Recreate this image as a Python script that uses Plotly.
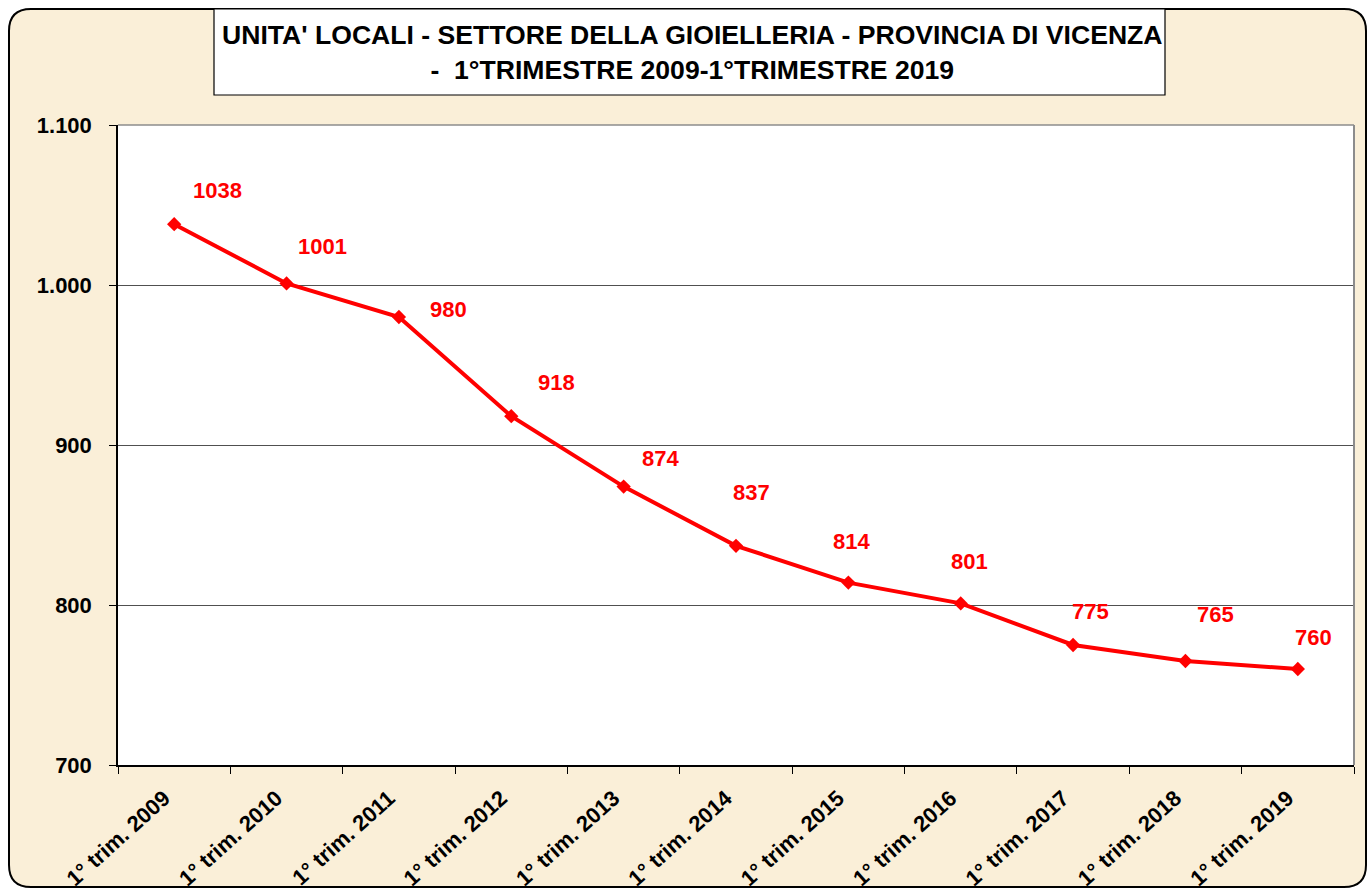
import plotly.graph_objects as go

categories = ["1° trim. 2009", "1° trim. 2010", "1° trim. 2011", "1° trim. 2012",
              "1° trim. 2013", "1° trim. 2014", "1° trim. 2015", "1° trim. 2016",
              "1° trim. 2017", "1° trim. 2018", "1° trim. 2019"]
values = [1038, 1001, 980, 918, 874, 837, 814, 801, 775, 765, 760]
y_tickvals = [700, 800, 900, 1000, 1100]
y_ticktext = ["700", "800", "900", "1.000", "1.100"]
title_lines = ["UNITA' LOCALI - SETTORE DELLA GIOIELLERIA - PROVINCIA DI VICENZA",
               "-  1°TRIMESTRE 2009-1°TRIMESTRE 2019"]

# label offsets in pixels (dx, dy) relative to each point
label_shift = [(43, 34), (36, 37), (50, 8), (45, 34), (37, 28), (15, 53),
               (3, 41), (9, 42), (17, 34), (30, 47), (16, 32)]

W, H = 1369, 890
L, R, T, B = 118, 15, 125, 125
pw, ph = W - L - R, H - T - B

def px(x):
    return (x - L) / pw

def py(y):
    return (H - B - y) / ph

FONT = "Arial, Liberation Sans, sans-serif"
RED = "#FF0000"

fig = go.Figure()
fig.add_trace(go.Scatter(
    x=categories, y=values, mode="lines+markers",
    line=dict(color=RED, width=4),
    marker=dict(symbol="diamond", size=11, color=RED),
    hoverinfo="x+y", showlegend=False,
))

annotations = []
for c, v, (dx, dy) in zip(categories, values, label_shift):
    annotations.append(dict(
        x=c, y=v, xref="x", yref="y", text=f"<b>{v}</b>", showarrow=False,
        xshift=dx, yshift=dy, font=dict(family=FONT, size=22, color=RED),
    ))

annotations.append(dict(
    x=px(692), y=py(53), xref="paper", yref="paper",
    text="<b>" + "<br>".join(title_lines) + "</b>", showarrow=False,
    font=dict(family=FONT, size=26.6, color="black"), align="center",
    xanchor="center", yanchor="middle",
))

# rounded outer border path in paper coordinates
x0, x1, y0, y1 = 9, 1366, 9, 887
r = 22
def P(x, y):
    return f"{px(x):.5f},{py(y):.5f}"
path = (f"M {P(x0 + r, y0)} L {P(x1 - r, y0)} Q {P(x1, y0)} {P(x1, y0 + r)} "
        f"L {P(x1, y1 - r)} Q {P(x1, y1)} {P(x1 - r, y1)} "
        f"L {P(x0 + r, y1)} Q {P(x0, y1)} {P(x0, y1 - r)} "
        f"L {P(x0, y0 + r)} Q {P(x0, y0)} {P(x0 + r, y0)} Z")

shapes = [
    dict(type="path", path=path, xref="paper", yref="paper",
         fillcolor="#FAEFD8", line=dict(color="black", width=2), layer="below"),
    dict(type="rect", xref="paper", yref="paper", x0=0, x1=1, y0=0, y1=1,
         fillcolor="white", line=dict(width=0), layer="below"),
    dict(type="rect", xref="paper", yref="paper",
         x0=px(214), x1=px(1165), y0=py(95), y1=py(9),
         fillcolor="white", line=dict(color="black", width=1.2), layer="below"),
    dict(type="line", xref="paper", yref="paper", x0=0, x1=1, y0=1, y1=1,
         line=dict(color="#8c8c8c", width=1.5), layer="above"),
    dict(type="line", xref="paper", yref="paper", x0=1, x1=1, y0=0, y1=1,
         line=dict(color="#8c8c8c", width=2), layer="above"),
]

fig.update_layout(
    width=W, height=H,
    margin=dict(l=L, r=R, t=T, b=B, autoexpand=False),
    paper_bgcolor="white", plot_bgcolor="white",
    shapes=shapes, annotations=annotations,
    font=dict(family=FONT, color="black"),
)
fig.update_xaxes(
    type="category", range=[-0.5, 10.5], tickson="boundaries",
    ticks="outside", ticklen=7, tickcolor="black", tickwidth=1,
    showline=True, linecolor="black", linewidth=1.5, showgrid=False,
    tickangle=-42, ticklabelstandoff=10, ticklabelshift=-10,
    tickfont=dict(family=FONT, size=22, color="black", weight="bold"),
)
fig.update_yaxes(
    range=[700, 1100], tickvals=y_tickvals, ticktext=y_ticktext,
    ticks="outside", ticklen=7, tickcolor="black", tickwidth=1,
    showline=True, linecolor="black", linewidth=1.5,
    showgrid=True, gridcolor="#505050", gridwidth=1, zeroline=False,
    ticklabelstandoff=13,
    tickfont=dict(family=FONT, size=22, color="black", weight="bold"),
)

fig.write_html(
    "out.html",
    config={"displayModeBar": False},
    post_script="document.body.style.margin='0';document.body.style.overflow='hidden';",
)
